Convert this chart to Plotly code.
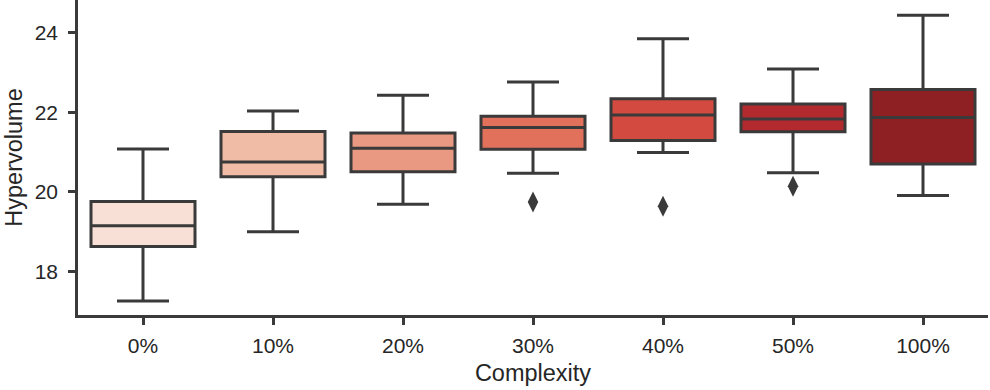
import plotly.graph_objects as go

categories = ["0%", "10%", "20%", "30%", "40%", "50%", "100%"]
lower_whisker = [17.26, 19.00, 19.69, 20.47, 20.99, 20.48, 19.91]
q1_values = [18.63, 20.38, 20.51, 21.07, 21.29, 21.51, 20.70]
median_values = [19.15, 20.75, 21.10, 21.62, 21.93, 21.83, 21.87]
q3_values = [19.76, 21.52, 21.48, 21.90, 22.34, 22.21, 22.57]
upper_whisker = [21.08, 22.03, 22.43, 22.76, 23.85, 23.09, 24.44]
outlier_cats = ["30%", "40%", "50%"]
outlier_values = [19.75, 19.64, 20.14]
fill_colors = ["#F8E0D6", "#F0BCA6", "#E99882", "#E2715C", "#D34A40", "#B22A2E", "#8E2024"]

LINE = "#3a3a3a"
FONT = "Liberation Sans, Arial, sans-serif"

fig = go.Figure()
for i, c in enumerate(categories):
    fig.add_trace(go.Box(
        x=[c],
        q1=[q1_values[i]], median=[median_values[i]], q3=[q3_values[i]],
        lowerfence=[lower_whisker[i]], upperfence=[upper_whisker[i]],
        fillcolor=fill_colors[i],
        line=dict(color=LINE, width=3),
        width=0.8, whiskerwidth=0.5,
        boxpoints=False, showlegend=False, hoverinfo="skip",
    ))

fig.add_trace(go.Scatter(
    x=outlier_cats, y=outlier_values, mode="markers",
    marker=dict(symbol="diamond-tall", size=15, color=LINE, line=dict(width=0)),
    showlegend=False, hoverinfo="skip",
))

fig.update_layout(
    width=990, height=390,
    margin=dict(l=78, r=2, t=0, b=75),
    plot_bgcolor="white", paper_bgcolor="white",
    font=dict(family=FONT, size=21, color="#262626"),
    xaxis=dict(
        type="category", categoryorder="array", categoryarray=categories,
        range=[-0.5, 6.5],
        showline=True, linecolor=LINE, linewidth=2.5,
        ticks="outside", ticklen=7, tickwidth=2.5, tickcolor=LINE,
        showgrid=False, zeroline=False,
        tickfont=dict(size=21),
        ticklabelstandoff=3,
        title=dict(text="Complexity", font=dict(size=23.5), standoff=9),
    ),
    yaxis=dict(
        range=[16.91, 24.82],
        tickvals=[18, 20, 22, 24], ticktext=["18", "20", "22", "24"],
        showline=True, linecolor=LINE, linewidth=2.5,
        ticks="outside", ticklen=7, tickwidth=2.5, tickcolor=LINE,
        showgrid=False, zeroline=False,
        tickfont=dict(size=21),
        ticklabelstandoff=6,
        title=dict(text="Hypervolume", font=dict(size=23.5), standoff=6),
    ),
)

fig.write_html("out.html")
